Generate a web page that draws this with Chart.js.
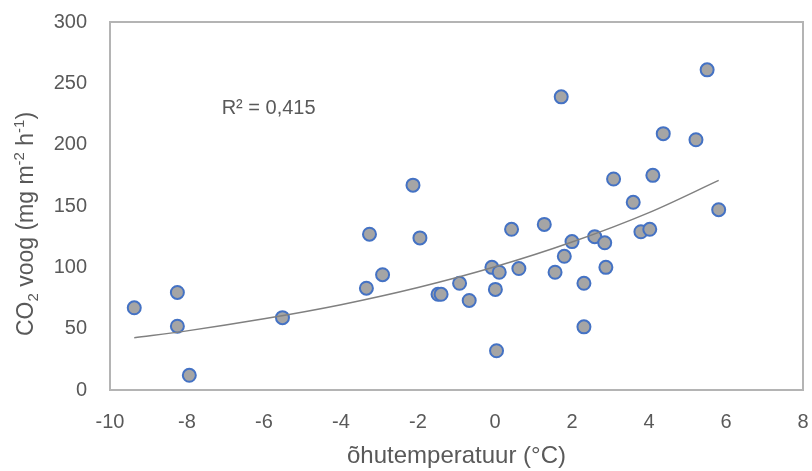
<!DOCTYPE html>
<html lang="et">
<head>
  <meta charset="UTF-8" />
  <title>CO2 voog</title>
  <script src="https://cdn.jsdelivr.net/npm/chart.js"></script>
  <style>
    html, body { margin: 0; padding: 0; background: #fff; }
  </style>
</head>
<body>
  <canvas id="co2Chart" width="812" height="471"></canvas>

  <script>
    // measured points (õhutemperatuur, CO2 voog)
    const airTemp = [-9.37, -8.25, -8.25, -7.94, -5.52, -3.34, -3.26, -2.92, -2.13, -1.95,
                     -1.48, -1.40, -0.92, -0.67, -0.08, 0.11, 0.01, 0.04, 0.43, 0.62,
                     1.28, 1.56, 1.72, 1.80, 2.00, 2.31, 2.31, 2.59, 2.85, 2.88,
                     3.08, 3.59, 3.79, 4.02, 4.10, 4.37, 5.22, 5.51, 5.81];
    const co2Flux = [67, 79.5, 52, 12, 59, 83, 127, 94, 167, 124,
                     78, 78, 87, 73, 100, 96, 82, 32, 131, 99,
                     135, 96, 239, 109, 121, 87, 51.5, 125, 120, 100,
                     172, 153, 129, 131, 175, 209, 204, 261, 147];

    // exponential trendline
    const trendTemp = [-9.37, -8, -6, -4, -2, 0, 2, 4, 5.81];
    const trendFlux = [42.6, 48.2, 58, 69.5, 83.5, 100.4, 120.6, 144.6, 170.9];

    const xTicks = [-10, -8, -6, -4, -2, 0, 2, 4, 6, 8];
    const yTicks = [0, 50, 100, 150, 200, 250, 300];

    const rSquaredText = 'R² = 0,415';
    const xTitle = 'õhutemperatuur (°C)';
    // y title pieces: [text, 'sub' | 'sup' | '']
    const yTitleParts = [['CO', ''], ['2', 'sub'], [' voog (mg m', ''], ['-2', 'sup'], [' h', ''], ['-1', 'sup'], [')', '']];

    const textColor = '#595959';
    const fontFamily = '"Liberation Sans", Arial, sans-serif';

    const frame = {
      id: 'frame',
      beforeDatasetsDraw(chart) {
        const { ctx, chartArea: a } = chart;
        ctx.save();
        ctx.strokeStyle = '#b4b4b4';
        ctx.lineWidth = 2;
        ctx.strokeRect(a.left, a.top, a.right - a.left, a.bottom - a.top);
        ctx.restore();
      }
    };

    const labels = {
      id: 'labels',
      afterDraw(chart) {
        const { ctx, scales } = chart;
        ctx.save();
        ctx.fillStyle = textColor;

        // R² note
        ctx.font = '20px ' + fontFamily;
        ctx.textBaseline = 'alphabetic';
        ctx.textAlign = 'left';
        ctx.fillText(rSquaredText, scales.x.getPixelForValue(-7.1), scales.y.getPixelForValue(225));

        // rotated y title with sub/superscripts
        const big = '23px ' + fontFamily, small = '15px ' + fontFamily;
        let total = 0;
        yTitleParts.forEach(([t, k]) => { ctx.font = k ? small : big; total += ctx.measureText(t).width; });
        ctx.translate(33, 224);
        ctx.rotate(-Math.PI / 2);
        let x = -total / 2;
        yTitleParts.forEach(([t, k]) => {
          ctx.font = k ? small : big;
          const dy = k === 'sub' ? 5 : k === 'sup' ? -9 : 0;
          ctx.fillText(t, x, dy);
          x += ctx.measureText(t).width;
        });
        ctx.restore();
      }
    };

    const points = airTemp.map((t, i) => ({ x: t, y: co2Flux[i] }));
    const trend = trendTemp.map((t, i) => ({ x: t, y: trendFlux[i] }));

    new Chart(document.getElementById('co2Chart'), {
      type: 'scatter',
      data: {
        datasets: [
          {
            label: 'trend',
            type: 'line',
            data: trend,
            borderColor: '#808080',
            borderWidth: 1.5,
            pointRadius: 0,
            fill: false,
            cubicInterpolationMode: 'monotone',
            order: 0
          },
          {
            label: 'CO2 voog',
            data: points,
            backgroundColor: '#a5a5a5',
            borderColor: '#4472c4',
            borderWidth: 2,
            pointRadius: 6.5,
            order: 1
          }
        ]
      },
      options: {
        responsive: false,
        animation: false,
        layout: { padding: { top: 22, right: 9, left: 0, bottom: 0 } },
        plugins: {
          legend: { display: false },
          tooltip: { enabled: false }
        },
        scales: {
          x: {
            type: 'linear',
            min: xTicks[0],
            max: xTicks[xTicks.length - 1],
            afterBuildTicks: s => { s.ticks = xTicks.map(v => ({ value: v })); },
            afterFit: s => { s.height = 81; s.paddingLeft = 0; s.paddingRight = 0; },
            grid: { display: false, drawTicks: false },
            border: { display: false },
            ticks: { color: textColor, padding: 20, font: { family: fontFamily, size: 20 } },
            title: {
              display: true,
              text: xTitle,
              color: textColor,
              padding: { top: 0, bottom: 0 },
              font: { family: fontFamily, size: 24 }
            }
          },
          y: {
            min: yTicks[0],
            max: yTicks[yTicks.length - 1],
            afterBuildTicks: s => { s.ticks = yTicks.map(v => ({ value: v })); },
            afterFit: s => { s.width = 110; s.paddingTop = 0; s.paddingBottom = 0; },
            grid: { display: false, drawTicks: false },
            border: { display: false },
            ticks: { color: textColor, padding: 23, font: { family: fontFamily, size: 20 } }
          }
        }
      },
      plugins: [frame, labels]
    });
  </script>
</body>
</html>
